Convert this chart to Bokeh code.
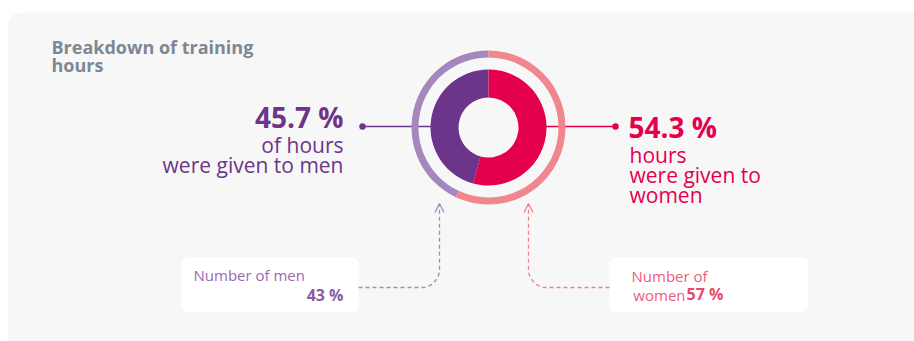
import numpy as np
from bokeh.plotting import figure
from bokeh.models import Range1d, BoxAnnotation, Arrow, OpenHead
from bokeh.core.properties import value
from bokeh.embed import file_html
from bokeh.resources import INLINE

# ---- data ----
categories = ["Men", "Women"]
hours_share = [45.7, 54.3]          # inner donut: share of training hours (%)
headcount_share = [43, 57]          # outer ring: share of employees (%)
hours_labels = ["45.7 %", "54.3 %"]
hours_text = [["of hours", "were given to men"], ["hours", "were given to", "women"]]
count_labels = ["43 %", "57 %"]
title_lines = ["Breakdown of training", "hours"]

# ---- style ----
W, H = 914, 341
FONT = "Open Sans"
DARK = ["#6c3589", "#e4004f"]
LIGHT = ["#a587bd", "#f0878f"]
CALL = ["#9a6aae", "#ee5d7a"]
GREY = "#7d8892"

def Y(py):
    return H - py

def txt(x, py, t, size, color, bold=False, align="left"):
    # empirical correction so the alphabetic baseline lands at pixel row py
    r = p.text(x=[x], y=[Y(py - 0.4 * size)], text=[t], text_font=value(FONT),
               text_font_style="bold" if bold else "normal",
               text_font_size=f"{size}px", text_color=color,
               text_align=align, text_baseline="alphabetic")
    r.level = "overlay"
    return r

p = figure(width=W, height=H, x_range=Range1d(0, W), y_range=Range1d(0, H),
           output_backend="svg", toolbar_location=None, min_border=0,
           background_fill_color="white", border_fill_color="white")
p.axis.visible = False
p.grid.visible = False
p.outline_line_color = None

# panel background
p.add_layout(BoxAnnotation(left=7, right=W + 30, top=Y(12), bottom=-30,
                           fill_color="#f7f7f7", fill_alpha=1, line_color=None,
                           border_radius=14, level="underlay"))
# callout boxes
p.add_layout(BoxAnnotation(left=181, right=358, top=Y(257), bottom=Y(312),
                           fill_color="white", fill_alpha=1, line_color=None,
                           border_radius=7, level="underlay"))
p.add_layout(BoxAnnotation(left=609, right=808, top=Y(257), bottom=Y(312),
                           fill_color="white", fill_alpha=1, line_color=None,
                           border_radius=7, level="underlay"))

cx, cy = 488, Y(127)

# leader lines
p.line([362, 440], [Y(126), Y(126)], line_color=DARK[0], line_width=1.3)
p.line([540, 615], [Y(126), Y(126)], line_color=DARK[1], line_width=1.3)
p.scatter([362, 615], [Y(126), Y(126)], size=6.5, color=DARK, line_color=None)

# donut angles (start at top, men counter-clockwise)
def wedges(vals):
    tot = float(sum(vals))
    starts, ends = [], []
    a = np.pi / 2
    for v in vals:
        starts.append(a)
        a = a + 2 * np.pi * v / tot
        ends.append(a)
    return starts, ends

s_in, e_in = wedges(hours_share)
p.annular_wedge(x=cx, y=cy, inner_radius=30, outer_radius=58,
                start_angle=s_in, end_angle=e_in, color=DARK, line_color=None)
s_out, e_out = wedges(headcount_share)
p.annular_wedge(x=cx, y=cy, inner_radius=70, outer_radius=77,
                start_angle=s_out, end_angle=e_out, color=LIGHT, line_color=None)

# title
for i, t in enumerate(title_lines):
    txt(51, 54 + 18 * i, t, 18, GREY, bold=True)

# men hour labels (right aligned)
txt(343, 128, hours_labels[0], 28, DARK[0], bold=True, align="right")
for i, t in enumerate(hours_text[0]):
    txt(343, 153 + 20 * i, t, 21, DARK[0], align="right")

# women hour labels (left aligned)
txt(628, 138, hours_labels[1], 28, DARK[1], bold=True)
for i, t in enumerate(hours_text[1]):
    txt(629, 163 + 20 * i, t, 21, DARK[1])

# callout texts
txt(193, 280, "Number of men", 15, CALL[0])
txt(343, 301, count_labels[0], 16, "#8b5ba3", bold=True, align="right")
txt(631, 281, "Number of", 15, CALL[1])
txt(685, 300, "women", 15, CALL[1], align="right")
txt(686, 300, count_labels[1], 16, "#e94a6c", bold=True)

# dashed connectors with rounded corners
def connector(x0, xc, y0, ytop, r, sign):
    t = np.linspace(0, np.pi / 2, 12)
    ax = xc - sign * r + sign * r * np.sin(t)
    ay = y0 - r + r * np.cos(t)
    xs = [x0] + list(ax) + [xc]
    ys = [Y(y0)] + [Y(v) for v in ay] + [Y(ytop)]
    return xs, ys

for xb, xc, col in [(358, 439, LIGHT[0]), (609, 528, "#f0818d")]:
    sign = 1 if xc > xb else -1
    xs, ys = connector(xb, xc, 287, 204, 18, sign)
    p.line(xs, ys, line_color=col, line_width=1.3, line_dash="4 3")
    p.add_layout(Arrow(end=OpenHead(size=9, line_color=col, line_width=1.3),
                       x_start=xc, y_start=Y(212), x_end=xc, y_end=Y(203),
                       line_alpha=0))

open("out.html", "w").write(file_html(p, INLINE))
